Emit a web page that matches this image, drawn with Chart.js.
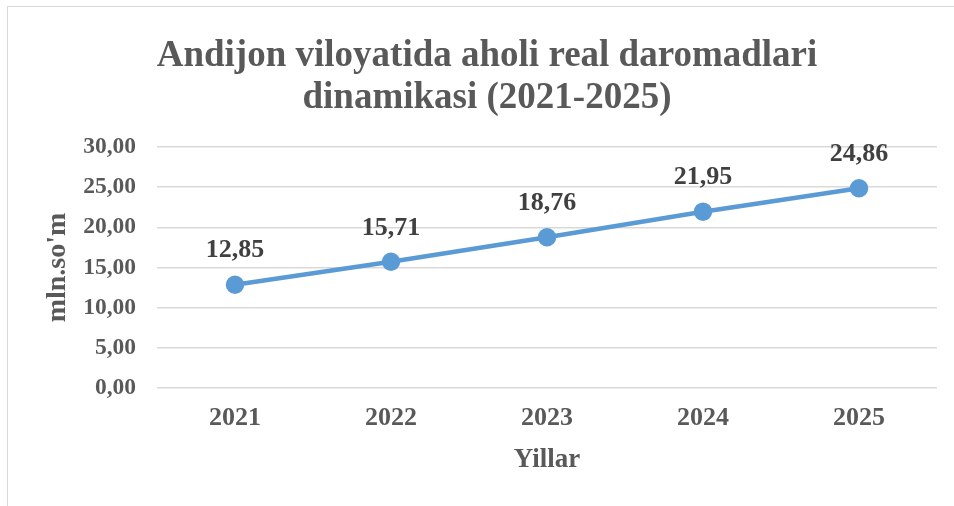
<!DOCTYPE html>
<html>
<head>
<meta charset="utf-8">
<script src="https://cdn.jsdelivr.net/npm/chart.js@4/dist/chart.umd.min.js"></script>
<style>
  html, body { margin: 0; padding: 0; background: #fff; overflow: hidden; }
  #wrap { position: relative; width: 954px; height: 506px; }
  #frame { position: absolute; left: 7px; top: 6px; width: 970px; height: 520px; border: 1px solid #d9d9d9; }
  canvas { position: absolute; left: 0; top: 0; }
</style>
</head>
<body>
<div id="wrap">
  <div id="frame"></div>
  <canvas id="chart" width="954" height="506"></canvas>
</div>
<script>
const years = ['2021', '2022', '2023', '2024', '2025'];
const incomes = [12.85, 15.71, 18.76, 21.95, 24.86];
const titleLines = ['Andijon viloyatida aholi real daromadlari', 'dinamikasi (2021-2025)'];

const serif = '"Liberation Serif", "Times New Roman", serif';
const fmt = v => v.toFixed(2).replace('.', ',');

// value labels above each point
const valueLabels = {
    id: 'valueLabels',
    afterDatasetsDraw(chart) {
        const ctx = chart.ctx;
        const meta = chart.getDatasetMeta(0);
        ctx.save();
        ctx.font = 'bold 26px ' + serif;
        ctx.fillStyle = '#404040';
        ctx.textAlign = 'center';
        ctx.textBaseline = 'middle';
        meta.data.forEach((pt, i) => {
            ctx.fillText(fmt(incomes[i]), pt.x, pt.y - 34);
        });
        ctx.restore();
    }
};

new Chart(document.getElementById('chart').getContext('2d'), {
    type: 'line',
    data: {
        labels: years,
        datasets: [{
            data: incomes,
            borderColor: '#5b9bd5',
            backgroundColor: '#5b9bd5',
            borderWidth: 4.5,
            pointRadius: 7,
            pointBackgroundColor: '#5b9bd5',
            pointBorderColor: '#5b9bd5',
            tension: 0
        }]
    },
    options: {
        responsive: false,
        animation: false,
        layout: { padding: { left: 37, right: 17, top: 35, bottom: 30 } },
        plugins: {
            legend: { display: false },
            tooltip: { enabled: false },
            title: {
                display: true,
                text: titleLines,
                color: '#595959',
                font: { family: serif, size: 37, weight: 'bold', lineHeight: 1.135 },
                padding: { top: 0, bottom: 28 }
            }
        },
        scales: {
            x: {
                offset: true,
                grid: { display: false, drawTicks: false },
                border: { display: false },
                ticks: { color: '#595959', font: { family: serif, size: 26, weight: 'bold' }, padding: 15 },
                title: {
                    display: true,
                    text: 'Yillar',
                    color: '#595959',
                    font: { family: serif, size: 27, weight: 'bold' },
                    padding: { top: 7, bottom: 0 }
                },
                afterFit: scale => { scale.height = 88; }
            },
            y: {
                min: 0,
                max: 30,
                ticks: {
                    stepSize: 5,
                    color: '#595959',
                    font: { family: serif, size: 23.5, weight: 'bold' },
                    padding: 21,
                    callback: v => fmt(v)
                },
                grid: { color: '#d9d9d9', lineWidth: 1.5, drawTicks: false },
                border: { display: false },
                title: {
                    display: true,
                    text: "mln.so'm",
                    color: '#595959',
                    font: { family: serif, size: 28, weight: 'bold' },
                    padding: { top: 4, bottom: 8 }
                },
                afterFit: scale => { scale.width = 120; }
            }
        }
    },
    plugins: [valueLabels]
});
</script>
</body>
</html>
